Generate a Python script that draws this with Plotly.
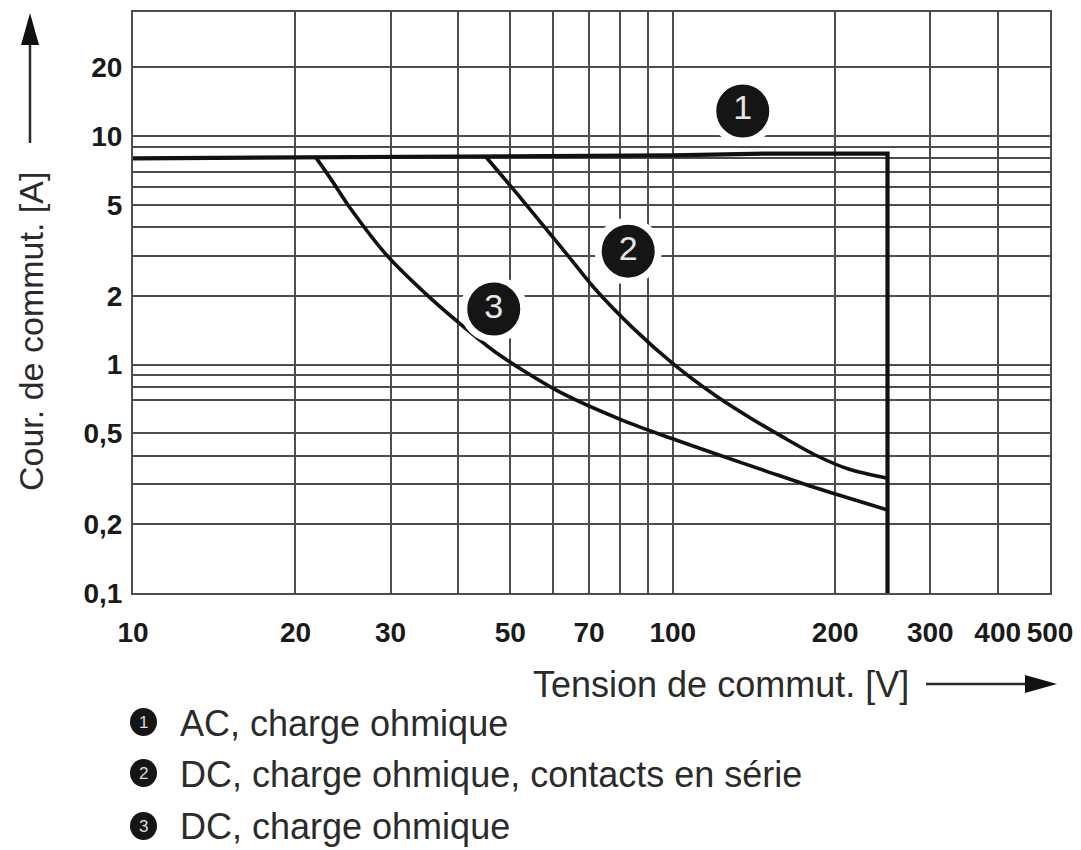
import plotly.graph_objects as go

# ---------------- data ----------------
# Curve 1: AC, resistive load (horizontal limit then vertical cut at 250 V)
ac_v = [10, 22, 45, 100, 150, 250, 250]
ac_i = [8.0, 8.1, 8.15, 8.25, 8.4, 8.4, 0.1]

# Curve 2: DC, resistive load, contacts in series
dc_series_v = [45.0, 51.6, 58.7, 63.9, 71.6, 84.8, 100.6, 120.7, 138.8, 160.4, 184.5, 212.2, 250]
dc_series_i = [8.15, 5.56, 3.84, 3.01, 2.16, 1.43, 1.0, 0.725, 0.587, 0.48, 0.40, 0.348, 0.318]

# Curve 3: DC, resistive load
dc_v = [21.8, 23.4, 25.1, 29.5, 35.7, 41.2, 47.4, 61.2, 81.2, 99.0, 120.7, 149.3, 184.5, 250]
dc_i = [8.1, 6.36, 4.95, 3.02, 1.94, 1.45, 1.115, 0.767, 0.567, 0.477, 0.405, 0.341, 0.288, 0.231]

# Number badges on the curves
badge_v = [134.8, 82.7, 46.6]
badge_i = [12.9, 3.14, 1.75]
badge_txt = ["1", "2", "3"]

# Axis ticks
x_tickvals = [10, 20, 30, 40, 50, 60, 70, 80, 90, 100, 200, 300, 400, 500]
x_ticktext = ["10", "20", "30", "", "50", "", "70", "", "", "100", "200", "300", "400", "500"]
y_tickvals = [0.1, 0.2, 0.3, 0.4, 0.5, 0.7, 0.8, 0.9, 1, 2, 3, 4, 5, 6, 7, 8, 9, 10, 20]
y_ticktext = ["0,1", "0,2", "", "", "0,5", "", "", "", "1", "2", "", "", "5", "", "", "", "", "10", "20"]

legend_labels = ["AC, charge ohmique",
                 "DC, charge ohmique, contacts en série",
                 "DC, charge ohmique"]

x_title = "Tension de commut. [V]"
y_title = "Cour. de commut. [A]"

# ---------------- layout geometry ----------------
W, H = 1081, 850
L, R, T, B = 133, 31, 12, 257
PW, PH = W - L - R, H - T - B


def px(x):
    return (x - L) / PW


def py(y):
    return (H - B - y) / PH


GRID = "#4d4d4d"
TXT = "#2b2b2b"

fig = go.Figure()

line_style = dict(color="#111111", width=3.6)
fig.add_trace(go.Scatter(x=ac_v, y=ac_i, mode="lines",
                         line=dict(color="#111111", width=4.2), showlegend=False))
fig.add_trace(go.Scatter(x=dc_series_v, y=dc_series_i, mode="lines",
                         line=dict(line_style, shape="spline", smoothing=0.8), showlegend=False))
fig.add_trace(go.Scatter(x=dc_v, y=dc_i, mode="lines",
                         line=dict(line_style, shape="spline", smoothing=0.8), showlegend=False))

fig.add_trace(go.Scatter(
    x=badge_v, y=badge_i, mode="markers+text", text=badge_txt,
    textposition="middle center",
    textfont=dict(family="Liberation Sans", size=34, color="#e6e6e6"),
    marker=dict(size=60, color="#151515", line=dict(color="white", width=7)),
    showlegend=False, hoverinfo="skip"))

axis_font = dict(family="Liberation Sans", size=28, color="#1a1a1a", weight="bold")

fig.update_xaxes(type="log", range=[1, 2.69897],
                 tickmode="array", tickvals=x_tickvals, ticktext=x_ticktext,
                 showgrid=True, gridcolor=GRID, gridwidth=1.6,
                 showline=True, mirror=True, linecolor=GRID, linewidth=2,
                 ticks="", tickfont=axis_font, ticklabelstandoff=13,
                 zeroline=False)
fig.update_yaxes(type="log", range=[-1, 1.544],
                 tickmode="array", tickvals=y_tickvals, ticktext=y_ticktext,
                 showgrid=True, gridcolor=GRID, gridwidth=1.6,
                 showline=True, mirror=True, linecolor=GRID, linewidth=2,
                 ticks="", tickfont=axis_font, ticklabelstandoff=3,
                 zeroline=False)

shapes = []
annotations = []

# Y axis title + arrow
annotations.append(dict(text=y_title, textangle=-90, xref="paper", yref="paper",
                        x=px(31), y=py(332), xanchor="center", yanchor="middle",
                        showarrow=False,
                        font=dict(family="Liberation Sans", size=34, color=TXT)))
shapes.append(dict(type="line", xref="paper", yref="paper",
                   x0=px(30), x1=px(30), y0=py(143), y1=py(40),
                   line=dict(color=TXT, width=2.5)))
shapes.append(dict(type="path", xref="paper", yref="paper",
                   path=f"M {px(21)} {py(45)} L {px(39)} {py(45)} L {px(30)} {py(13)} Z",
                   fillcolor="#111111", line=dict(width=0)))

# X axis title + arrow
annotations.append(dict(text=x_title, xref="paper", yref="paper",
                        x=px(721), y=py(684), xanchor="center", yanchor="middle",
                        showarrow=False,
                        font=dict(family="Liberation Sans", size=36, color=TXT)))
shapes.append(dict(type="line", xref="paper", yref="paper",
                   x0=px(926), x1=px(1030), y0=py(684), y1=py(684),
                   line=dict(color=TXT, width=2.5)))
shapes.append(dict(type="path", xref="paper", yref="paper",
                   path=f"M {px(1025)} {py(675)} L {px(1025)} {py(693)} L {px(1057)} {py(684)} Z",
                   fillcolor="#111111", line=dict(width=0)))

# Legend below the chart
legend_y = [722, 773, 826]
for i, (lab, yc) in enumerate(zip(legend_labels, legend_y)):
    shapes.append(dict(type="circle", xref="paper", yref="paper",
                       x0=px(130), x1=px(157), y0=py(yc + 14), y1=py(yc - 14),
                       fillcolor="#151515", line=dict(width=0)))
    annotations.append(dict(text=badge_txt[i], xref="paper", yref="paper",
                            x=px(143.5), y=py(yc), xanchor="center", yanchor="middle",
                            showarrow=False,
                            font=dict(family="Liberation Sans", size=17, color="#dddddd")))
    annotations.append(dict(text=lab, xref="paper", yref="paper",
                            x=px(178), y=py(yc + 1), xanchor="left", yanchor="middle",
                            showarrow=False,
                            font=dict(family="Liberation Sans", size=36, color=TXT)))

fig.update_layout(width=W, height=H,
                  margin=dict(l=L, r=R, t=T, b=B, autoexpand=False),
                  paper_bgcolor="white", plot_bgcolor="white",
                  shapes=shapes, annotations=annotations,
                  showlegend=False)

fig.write_html("out.html", config={"displayModeBar": False},
               post_script="document.body.style.margin='0';document.body.style.overflow='hidden';")
